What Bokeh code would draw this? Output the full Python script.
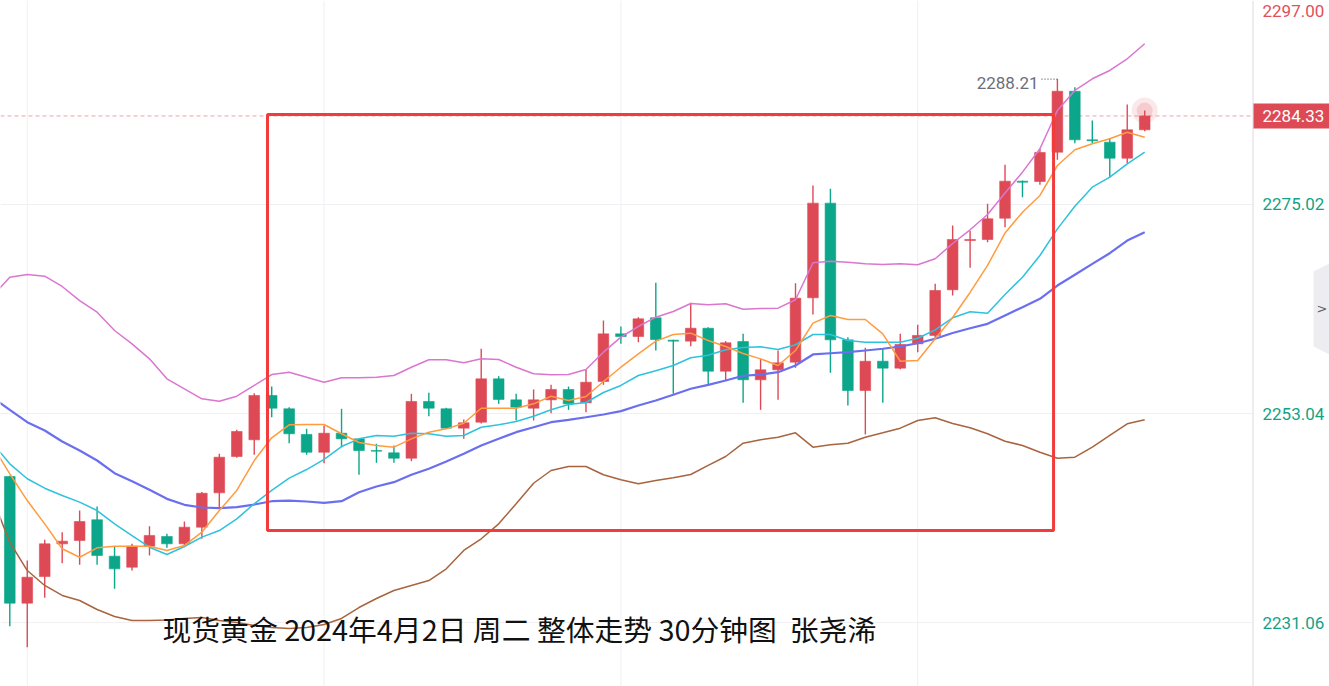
from bokeh.plotting import figure
from bokeh.models import Range1d, ColumnDataSource
from bokeh.core.properties import value
from bokeh.embed import file_html
from bokeh.resources import INLINE

# ---------------- data ----------------
opens = [2246.42, 2233.10, 2235.90, 2239.34, 2239.69, 2241.87, 2238.04, 2236.88, 2239.09, 2240.11,
         2239.34, 2241.09, 2244.70, 2248.52, 2250.28, 2254.94, 2253.54, 2250.84, 2248.97, 2250.97,
         2250.38, 2249.15, 2248.91, 2248.34, 2254.31, 2253.54, 2251.50, 2252.13, 2256.69, 2254.48,
         2253.60, 2254.48, 2255.57, 2254.17, 2256.41, 2261.42, 2261.14, 2263.11, 2260.75, 2260.65,
         2262.01, 2257.49, 2260.61, 2256.59, 2257.64, 2258.44, 2265.21, 2275.16, 2260.79, 2255.46,
         2258.54, 2257.81, 2260.37, 2261.25, 2266.05, 2271.23, 2271.34, 2273.58, 2277.47, 2277.44,
         2280.52, 2286.93, 2281.82, 2281.57, 2279.89, 2282.87]
highs = [2246.50, 2237.59, 2239.76, 2240.56, 2242.84, 2243.26, 2239.09, 2239.34, 2241.19, 2240.39,
         2241.69, 2244.80, 2248.81, 2251.33, 2255.18, 2255.88, 2253.71, 2251.43, 2251.78, 2253.54,
         2250.45, 2249.86, 2249.68, 2255.11, 2255.22, 2253.64, 2252.41, 2259.85, 2256.97, 2255.11,
         2255.57, 2256.06, 2255.88, 2257.67, 2262.82, 2262.19, 2263.17, 2266.79, 2260.80, 2264.68,
         2262.10, 2260.65, 2261.42, 2258.80, 2259.67, 2266.74, 2277.02, 2276.67, 2261.07, 2259.95,
         2259.85, 2261.42, 2262.37, 2266.68, 2272.81, 2272.23, 2275.09, 2279.19, 2277.55, 2280.88,
         2288.21, 2287.35, 2283.85, 2281.99, 2285.54, 2284.90]
lows = [2230.68, 2228.47, 2233.66, 2237.30, 2237.13, 2237.13, 2234.61, 2236.54, 2238.11, 2238.92,
        2238.98, 2239.87, 2243.19, 2248.40, 2248.70, 2252.65, 2249.92, 2248.70, 2247.82, 2249.50,
        2246.60, 2247.86, 2247.86, 2248.03, 2252.76, 2251.43, 2250.38, 2252.00, 2254.06, 2252.31,
        2252.31, 2253.08, 2253.43, 2253.18, 2256.06, 2260.37, 2260.54, 2259.67, 2255.11, 2260.12,
        2256.06, 2256.51, 2254.17, 2253.43, 2254.48, 2257.85, 2263.45, 2257.32, 2253.88, 2250.84,
        2254.17, 2257.70, 2259.49, 2260.90, 2265.45, 2268.36, 2271.06, 2272.63, 2275.79, 2277.09,
        2279.72, 2281.47, 2281.47, 2277.89, 2279.36, 2282.73]
closes = [2233.10, 2235.83, 2239.34, 2239.62, 2241.69, 2238.11, 2236.71, 2239.09, 2240.22, 2239.34,
          2241.09, 2244.66, 2248.45, 2251.15, 2254.94, 2253.60, 2250.91, 2248.97, 2250.97, 2250.38,
          2249.15, 2249.08, 2248.34, 2254.31, 2253.60, 2251.50, 2252.07, 2256.69, 2254.52, 2253.71,
          2254.48, 2255.57, 2254.06, 2256.33, 2261.42, 2261.14, 2263.00, 2260.82, 2260.65, 2262.01,
          2257.49, 2260.48, 2256.59, 2257.64, 2258.37, 2265.17, 2275.16, 2260.79, 2255.46, 2258.54,
          2257.81, 2260.30, 2261.25, 2265.98, 2271.34, 2271.34, 2273.52, 2277.47, 2277.36, 2280.49,
          2286.93, 2281.82, 2281.72, 2279.89, 2282.87, 2284.33]

# indicator lines, first value belongs to the bar just left of the view (index -1)
boll_up = [2265.39,
           2267.37, 2267.66, 2267.48, 2266.40, 2264.92, 2263.69, 2261.77, 2260.37, 2258.79, 2256.69,
           2255.64, 2254.59, 2254.34, 2254.86, 2255.99, 2257.14, 2257.39, 2256.86, 2256.33, 2256.80,
           2256.80, 2256.86, 2257.04, 2257.91, 2258.69, 2258.69, 2258.37, 2258.79, 2258.72, 2257.91,
           2257.22, 2257.11, 2257.14, 2257.67, 2259.49, 2261.07, 2262.19, 2263.17, 2263.77, 2264.61,
           2264.47, 2264.58, 2264.01, 2264.08, 2264.12, 2265.00, 2268.89, 2269.06, 2268.95, 2268.78,
           2268.71, 2268.78, 2268.68, 2269.31, 2270.92, 2272.36, 2273.97, 2276.23, 2278.42, 2280.88,
           2284.90, 2287.01, 2288.24, 2289.11, 2290.34, 2291.92]
boll_mid = [2254.75,
            2253.43, 2252.13, 2251.26, 2250.10, 2249.15, 2248.10, 2246.77, 2245.92, 2245.02, 2244.07,
            2243.44, 2243.16, 2243.09, 2243.19, 2243.47, 2243.82, 2243.89, 2243.79, 2243.65, 2243.82,
            2244.77, 2245.37, 2245.82, 2246.60, 2247.23, 2248.00, 2248.81, 2249.68, 2250.38, 2251.08,
            2251.60, 2252.13, 2252.38, 2252.65, 2252.94, 2253.29, 2253.88, 2254.41, 2255.01, 2255.64,
            2256.06, 2256.51, 2257.01, 2257.14, 2257.39, 2258.09, 2259.25, 2259.38, 2259.49, 2259.67,
            2259.85, 2260.09, 2260.43, 2260.90, 2261.51, 2262.01, 2262.47, 2263.35, 2264.22, 2265.10,
            2266.50, 2267.63, 2268.78, 2269.90, 2271.23, 2272.11]
boll_low = [2244.16,
            2239.51, 2236.53, 2234.96, 2233.91, 2233.38, 2232.43, 2231.70, 2231.28, 2231.28, 2231.33,
            2231.49, 2231.59, 2231.28, 2231.07, 2230.75, 2230.54, 2230.44, 2230.54, 2230.86, 2231.49,
            2232.64, 2233.59, 2234.43, 2234.96, 2235.48, 2236.71, 2238.64, 2239.87, 2241.44, 2243.55,
            2245.71, 2247.05, 2247.47, 2247.47, 2246.60, 2246.07, 2245.65, 2246.00, 2246.28, 2246.63,
            2247.58, 2248.52, 2249.92, 2250.28, 2250.55, 2251.01, 2249.50, 2249.75, 2249.92, 2250.55,
            2251.01, 2251.50, 2252.31, 2252.59, 2251.99, 2251.54, 2250.91, 2250.13, 2249.68, 2248.97,
            2248.34, 2248.45, 2249.50, 2250.73, 2251.96, 2252.38]
ma5 = [2249.68,
       2246.70, 2243.89, 2241.44, 2238.82, 2237.93, 2238.92, 2239.09, 2239.09, 2239.09, 2238.64,
       2239.16, 2240.56, 2242.84, 2244.95, 2248.10, 2250.49, 2251.85, 2251.89, 2251.89, 2250.91,
       2249.99, 2249.68, 2249.50, 2250.38, 2251.08, 2251.43, 2252.02, 2253.60, 2253.60, 2253.60,
       2254.06, 2254.86, 2254.41, 2254.83, 2256.41, 2257.91, 2259.32, 2260.65, 2261.35, 2261.49,
       2260.72, 2260.09, 2259.35, 2258.79, 2258.09, 2259.67, 2262.54, 2263.35, 2262.93, 2262.93,
       2261.42, 2258.54, 2258.62, 2260.90, 2263.14, 2265.77, 2268.61, 2272.02, 2274.21, 2275.97,
       2279.12, 2280.77, 2281.40, 2281.93, 2282.62, 2282.10]
ma10 = [2249.94,
        2247.75, 2246.18, 2245.19, 2244.42, 2243.72, 2242.84, 2241.44, 2240.21, 2238.98, 2238.22,
        2239.06, 2240.04, 2240.74, 2241.97, 2243.55, 2244.95, 2246.24, 2247.15, 2248.21, 2249.57,
        2250.38, 2250.73, 2250.66, 2250.97, 2250.91, 2250.66, 2250.73, 2251.60, 2251.85, 2252.20,
        2252.76, 2253.43, 2253.99, 2254.20, 2255.25, 2255.99, 2257.04, 2257.53, 2258.09, 2258.90,
        2259.17, 2259.74, 2259.98, 2260.06, 2259.77, 2260.27, 2261.35, 2261.35, 2260.72, 2260.54,
        2260.54, 2260.54, 2260.96, 2261.84, 2263.11, 2263.74, 2263.59, 2265.56, 2267.37, 2269.66,
        2272.46, 2274.84, 2276.84, 2277.89, 2279.30, 2280.52]

price_ticks = [2231.06, 2253.04, 2275.02]
top_price_label = 2297.00
last_price = 2284.33
high_mark = 2288.21
high_mark_bar = 60
time_grid_bars = [1, 18, 35, 52]
box_bars = [14.76, 59.78]          # left / right edge of the red box (bar index)
box_prices = [2240.74, 2284.48]    # bottom / top edge of the red box
title_text = "现货黄金 2024年4月2日 周二 整体走势 30分钟图 \u00a0张尧浠"

# ---------------- layout (pixels -> data) ----------------
W, H = 1329, 686
X0_PX, STEP_PX = 9.3, 17.46        # centre of first bar, bar spacing
Y_TOP, PRICE_PER_PX = 2296.47, 0.10515
AXIS_PX = 1252.5


def px(xp):
    return (xp - X0_PX) / STEP_PX


def py(yp):
    return Y_TOP - yp * PRICE_PER_PX


RED, GREEN = "#dd4a56", "#0ca68a"

p = figure(width=W, height=H, x_range=Range1d(px(0), px(W)), y_range=Range1d(py(H), py(0)),
           x_axis_location=None, y_axis_location=None, toolbar_location=None,
           output_backend="svg", min_border=0, outline_line_color=None,
           background_fill_color="white", border_fill_color="white")
p.xgrid.visible = False
p.ygrid.visible = False

# grid
p.segment(x0=px(0), x1=px(AXIS_PX), y0=price_ticks, y1=price_ticks, line_color="#f0f0f4", line_width=1)
p.segment(x0=time_grid_bars, x1=time_grid_bars, y0=py(H), y1=py(0), line_color="#f0f0f4", line_width=1)

# last price dashed line
p.segment(x0=[px(0)], x1=[px(AXIS_PX)], y0=[last_price], y1=[last_price],
          line_color="#e9a3aa", line_width=1, line_dash="4 3")

# candles
idx = list(range(len(opens)))
colors = [RED if c >= o else GREEN for o, c in zip(opens, closes)]
src = ColumnDataSource(dict(x=idx, o=opens, h=highs, l=lows, c=closes,
                            top=[max(o, c) for o, c in zip(opens, closes)],
                            bottom=[min(o, c) for o, c in zip(opens, closes)],
                            color=colors))
p.segment(x0="x", x1="x", y0="h", y1="l", line_color="color", line_width=1.4, source=src)
p.vbar(x="x", width=0.61, top="top", bottom="bottom", fill_color="color", line_color="color",
       line_width=0.6, source=src)

# glow on the live bar
p.scatter(x=[idx[-1]], y=[highs[-1]], size=26, fill_color=RED, fill_alpha=0.12, line_color=None)
p.scatter(x=[idx[-1]], y=[highs[-1]], size=16, fill_color=RED, fill_alpha=0.18, line_color=None)

# indicator lines
line_x = list(range(-1, len(ma5) - 1))
p.line(line_x, boll_low, line_color="#a8643e", line_width=1.5)
p.line(line_x, boll_up, line_color="#db76cf", line_width=1.5)
p.line(line_x, boll_mid, line_color="#6a6ff0", line_width=2.2)
p.line(line_x, ma10, line_color="#2ec2dc", line_width=1.5)
p.line(line_x, ma5, line_color="#ff9c40", line_width=1.5)

# red box
p.quad(left=[box_bars[0]], right=[box_bars[1]], bottom=[box_prices[0]], top=[box_prices[1]],
       fill_color=None, line_color="#f23b3b", line_width=3)

# high mark
p.segment(x0=[px(1041)], x1=[high_mark_bar], y0=[high_mark], y1=[high_mark],
          line_color="#555a66", line_width=1.2, line_dash="1 2")
p.text(x=[px(1038)], y=[high_mark], text=[f"{high_mark:.2f}"], text_align="right",
       text_baseline="middle", y_offset=4, text_color="#6b6e7b",
       text_font=value("Roboto"), text_font_size=value("17px"))

# right price scale
p.segment(x0=[px(AXIS_PX)], x1=[px(AXIS_PX)], y0=[py(H)], y1=[py(0)], line_color="#e6e6ec", line_width=1.5)
p.text(x=px(1262), y=price_ticks, text=[f"{v:.2f}" for v in price_ticks], text_align="left",
       text_baseline="middle", text_color="#13a286", text_font=value("Roboto"),
       text_font_size=value("17px"))
p.text(x=[px(1262)], y=[min(top_price_label, py(10))], text=[f"{top_price_label:.2f}"],
       text_align="left", text_baseline="middle", text_color="#e0505c",
       text_font=value("Roboto"), text_font_size=value("17px"))
p.quad(left=[px(AXIS_PX + 0.5)], right=[px(W + 2)], bottom=[last_price - 12.5 * PRICE_PER_PX],
       top=[last_price + 12.5 * PRICE_PER_PX], fill_color=RED, line_color=None)
p.text(x=[px(1262)], y=[last_price], text=[f"{last_price:.2f}"], text_align="left",
       text_baseline="middle", text_color="white", text_font=value("Roboto"),
       text_font_size=value("17px"))

# collapse handle at right edge
p.patch(x=[px(W + 2), px(1313), px(1313), px(W + 2)], y=[py(262), py(271), py(346), py(355)],
        fill_color="#ededf1", line_color=None)
p.text(x=[px(1316)], y=[py(308)], text=[">"], text_align="left", text_baseline="middle",
       text_color="#5d6068", text_font=value("DejaVu Sans"), text_font_size=value("13px"))

# title text
p.text(x=[px(162)], y=[py(628)], text=[title_text], text_align="left", text_baseline="middle",
       text_color="#111111", text_font=value("Noto Sans CJK SC"), text_font_size=value("28.8px"))

open("out.html", "w").write(file_html(p, INLINE))
